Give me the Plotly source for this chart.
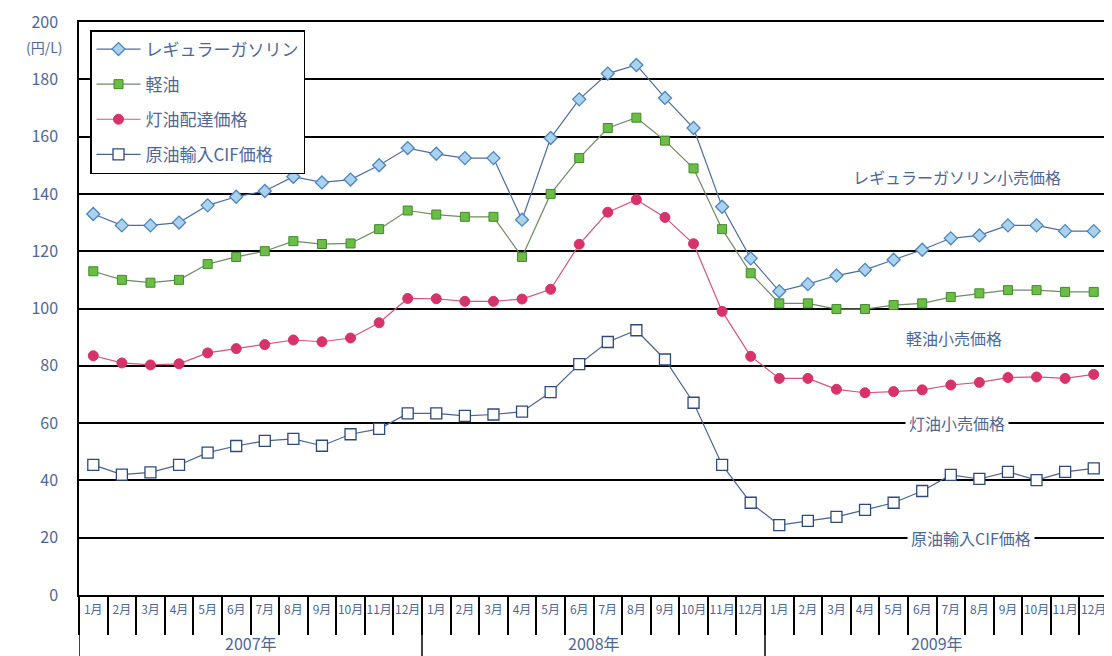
import plotly.graph_objects as go

months = [f"{m}月" for m in range(1, 13)] * 3
years = ["2007年", "2008年", "2009年"]

gasoline = [133, 129, 129, 130, 136, 139, 141, 146, 144, 145, 150, 156,
            154, 152.5, 152.5, 131, 159.5, 173, 182, 185, 173.5, 163, 135.5, 117.5,
            106, 108.5, 111.5, 113.5, 117, 120.5, 124.5, 125.5, 129, 129, 127, 127]
diesel = [113, 110, 109, 110, 115.5, 118, 120, 123.5, 122.5, 122.7, 127.7, 134.2,
          132.8, 132, 132, 118, 140, 152.5, 163, 166.6, 158.6, 148.9, 127.7, 112.3,
          101.8, 101.8, 99.8, 99.8, 101.2, 101.8, 104, 105.3, 106.4, 106.4, 105.8, 105.8]
kerosene = [83.5, 81, 80.3, 80.7, 84.5, 86, 87.4, 89, 88.4, 89.7, 95, 103.5,
            103.4, 102.5, 102.5, 103.3, 106.7, 122.4, 133.6, 138, 131.8, 122.6, 99, 83.3,
            75.6, 75.6, 71.8, 70.6, 71, 71.6, 73.3, 74.2, 75.9, 76.1, 75.6, 77]
crude_cif = [45.4, 42, 42.8, 45.4, 49.7, 52, 53.8, 54.5, 52.1, 56.1, 58, 63.4,
             63.4, 62.5, 63, 64, 70.8, 80.6, 88.3, 92.4, 82.2, 67.1, 45.4, 32.2,
             24.4, 25.9, 27.3, 29.7, 32.2, 36.3, 41.9, 40.5, 43, 40.1, 43, 44.2]

series_names = ["レギュラーガソリン", "軽油", "灯油配達価格", "原油輸入CIF価格"]
side_labels = ["レギュラーガソリン小売価格", "軽油小売価格", "灯油小売価格", "原油輸入CIF価格"]
side_label_x = [30.2, 30.1, 30.2, 30.7]
side_label_y = [146, 89.7, 60, 20]
side_label_bg = [False, False, True, True]

FONT = "Noto Sans CJK JP"
TXT = "#4e6797"

x = list(range(len(months)))

styles = [
    dict(line=dict(color="#4f6d9c", width=1.2),
         marker=dict(symbol="diamond", size=10, color="#a9d2ee",
                     line=dict(color="#4d84ba", width=1.3))),
    dict(line=dict(color="#6f8a66", width=1.2),
         marker=dict(symbol="square", size=9, color="#6cbd45",
                     line=dict(color="#3f8a2c", width=1))),
    dict(line=dict(color="#d4557c", width=1.2),
         marker=dict(symbol="circle", size=10, color="#d6336b",
                     line=dict(color="#d6336b", width=1))),
    dict(line=dict(color="#4a6390", width=1.2),
         marker=dict(symbol="square", size=11, color="white",
                     line=dict(color="#2d4a7a", width=1.3))),
]

fig = go.Figure()
for name, vals, st, i in zip(series_names, [gasoline, diesel, kerosene, crude_cif], styles, range(4)):
    fig.add_trace(go.Scatter(x=x, y=vals, name=name, mode="lines+markers",
                             legendgroup=f"g{i}", **st))

# right side labels
for lab, xv, yv, bg in zip(side_labels, side_label_x, side_label_y, side_label_bg):
    fig.add_annotation(x=xv, y=yv, xref="x", yref="y",
                       text=lab, showarrow=False, bgcolor="white" if bg else "rgba(0,0,0,0)",
                       borderpad=3, font=dict(family=FONT, size=16, color=TXT),
                       xanchor="center", yanchor="middle")

# year labels and separators
H = 573.0
for k, yr in enumerate(years):
    fig.add_annotation(x=12 * k + 5.5, y=-48 / H, xref="x", yref="paper", text=yr,
                       showarrow=False, font=dict(family=FONT, size=16, color=TXT),
                       xanchor="center", yanchor="middle")
for xs in [-0.5, 11.5, 23.5]:
    fig.add_shape(type="line", x0=xs, x1=xs, y0=0, y1=-61 / H, xref="x", yref="paper",
                  line=dict(color="black", width=1.5))

fig.add_annotation(x=0, y=1, xref="paper", yref="paper", text="(円/L)", showarrow=False,
                   xanchor="right", yanchor="top", xshift=-14, yshift=-13,
                   font=dict(family=FONT, size=14, color=TXT))

# page body has an 8px margin, so the figure is sized/offset to compensate
fig.update_layout(
    width=1104, height=648,
    margin=dict(l=71, r=4, t=14, b=61),
    paper_bgcolor="white", plot_bgcolor="white",
    font=dict(family=FONT, color=TXT),
    legend=dict(x=11 / 1028, y=1 - 8 / 573, xanchor="left", yanchor="top",
                bgcolor="white", bordercolor="black", borderwidth=1.5,
                font=dict(family=FONT, size=17, color=TXT),
                tracegroupgap=10, traceorder="grouped", itemwidth=44),
    xaxis=dict(range=[-0.5, 35.5], tickmode="array", tickvals=x, ticktext=months,
               ticks="", showgrid=False, zeroline=False, showline=True, mirror=True,
               linecolor="black", linewidth=1.5, automargin=False, ticklabelstandoff=3,
               tickfont=dict(family=FONT, size=12, color=TXT),
               minor=dict(tickmode="array", tickvals=[k - 0.5 for k in range(37)],
                          ticks="outside", ticklen=38, tickcolor="black", tickwidth=1.5,
                          showgrid=False)),
    yaxis=dict(range=[0, 200], tickmode="array", tickvals=list(range(0, 201, 20)),
               showgrid=True, gridcolor="black", gridwidth=1.5, zeroline=False,
               showline=True, mirror=True, linecolor="black", linewidth=1.5,
               ticks="", ticklabelstandoff=16, automargin=False,
               tickfont=dict(family=FONT, size=16, color=TXT)),
)

fig.write_html("out.html")
